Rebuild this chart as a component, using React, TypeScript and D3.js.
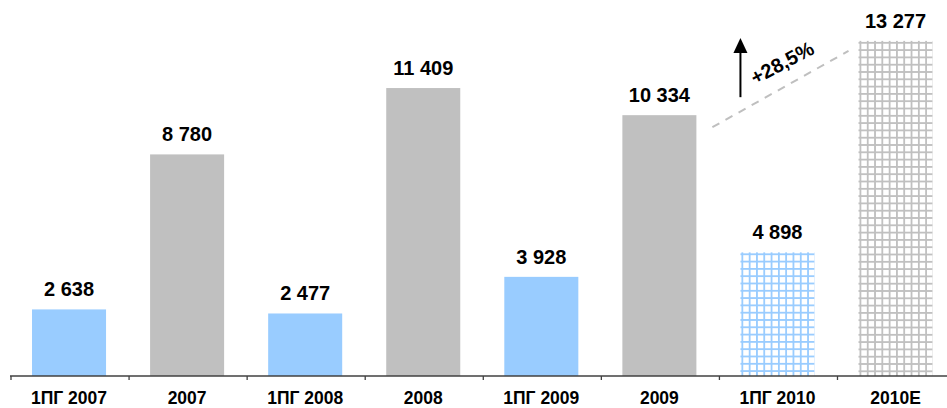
import React from "react";
import * as d3 from "d3";

const categories = ["1ПГ 2007", "2007", "1ПГ 2008", "2008", "1ПГ 2009", "2009", "1ПГ 2010", "2010E"];
const values = [2638, 8780, 2477, 11409, 3928, 10334, 4898, 13277];
const kinds = ["half", "year", "half", "year", "half", "year", "halfE", "yearE"];
const growthLabel = "+28,5%";

const W = 947;
const H = 408;

const fmt = (v: number) => d3.format(",")(v).replace(/,/g, " ");

export default function App() {
  const x = d3
    .scaleBand<string>()
    .domain(categories)
    .range([10, 10 + 8 * 118.07])
    .paddingInner(0.373)
    .paddingOuter(0.1865);
  const y = d3.scaleLinear().domain([0, 14000]).range([376, 376 - 14000 * 0.02524]);
  const bw = x.bandwidth();
  const step = x.step();
  const r0 = x.range()[0];

  const fillFor = (k: string) =>
    k === "half" ? "#99CCFF" : k === "year" ? "#C0C0C0" : k === "halfE" ? "url(#gridBlue)" : "url(#gridGrey)";

  const x09 = x("2009")!;
  const x10E = x("2010E")!;
  const xH10 = x("1ПГ 2010")!;
  const lx1 = x09 + bw + 16;
  const ly1 = y(10334) + 12;
  const lx2 = x10E - 10;
  const ly2 = y(13277) + 10;

  const ax = xH10;
  const ayTop = y(13277) - 3;
  const ayBot = y(10334) - 18;

  return (
    <svg width={W} height={H} style={{ position: "absolute", left: 0, top: 0 }} fontFamily="Arial, 'Liberation Sans', sans-serif">
      <defs>
        <pattern id="gridBlue" width={7.3} height={7.3} patternUnits="userSpaceOnUse" x={x("1ПГ 2010")! + 1} y={y(4898) + 1}>
          <rect width={7.3} height={7.3} fill="#ffffff" />
          <rect x={0} y={0} width={7.3} height={1.8} fill="#99CCFF" />
          <rect x={0} y={0} width={1.8} height={7.3} fill="#99CCFF" />
        </pattern>
        <pattern id="gridGrey" width={7.3} height={7.3} patternUnits="userSpaceOnUse" x={x("2010E")! + 1} y={y(13277) + 1}>
          <rect width={7.3} height={7.3} fill="#ffffff" />
          <rect x={0} y={0} width={7.3} height={1.8} fill="#C0C0C0" />
          <rect x={0} y={0} width={1.8} height={7.3} fill="#C0C0C0" />
        </pattern>
      </defs>
      {categories.map((c, i) => (
        <rect key={c} x={x(c)} y={y(values[i])} width={bw} height={y(0) - y(values[i])} fill={fillFor(kinds[i])} />
      ))}
      {categories.map((c, i) => (
        <text key={"v" + c} x={x(c)! + bw / 2} y={y(values[i]) - 13} textAnchor="middle" fontWeight="bold" fontSize={20} fill="#000">
          {fmt(values[i])}
        </text>
      ))}
      <line x1={r0} x2={W + 10} y1={y(0)} y2={y(0)} stroke="#404040" strokeWidth={1.3} />
      {d3.range(categories.length + 1).map((i) => (
        <line key={"t" + i} x1={r0 + i * step + 1} x2={r0 + i * step + 1} y1={y(0)} y2={y(0) + 4} stroke="#404040" strokeWidth={1.3} />
      ))}
      {categories.map((c) => (
        <text key={"c" + c} x={x(c)! + bw / 2} y={404} textAnchor="middle" fontWeight="bold" fontSize={17.5} fill="#000">
          {c}
        </text>
      ))}
      <line x1={lx1} y1={ly1} x2={lx2} y2={ly2} stroke="#BFBFBF" strokeWidth={2} strokeDasharray="8,7" />
      <line x1={ax} y1={ayBot} x2={ax} y2={ayTop + 14} stroke="#000" strokeWidth={2} />
      <path d={`M${ax - 7},${ayTop + 15} L${ax + 7},${ayTop + 15} L${ax},${ayTop} Z`} fill="#000" />
      <text
        x={0}
        y={0}
        transform={`translate(${ax + 45},${ayTop + 31}) rotate(-28)`}
        textAnchor="middle"
        fontWeight="bold"
        fontSize={20}
        fill="#000"
      >
        {growthLabel}
      </text>
    </svg>
  );
}
